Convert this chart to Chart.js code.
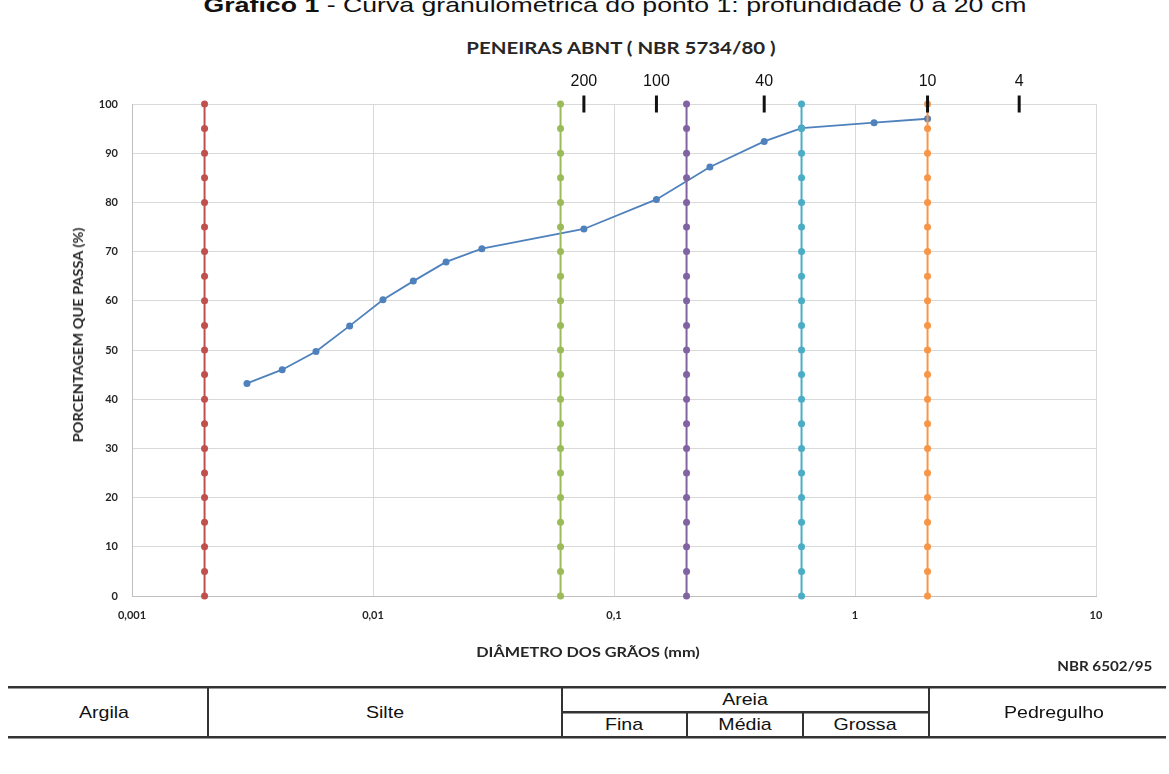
<!DOCTYPE html>
<html lang="pt-BR">
<head>
<meta charset="utf-8">
<title>Curva granulométrica - ponto 1</title>
<script src="https://cdn.jsdelivr.net/npm/chart.js@4.4.1/dist/chart.umd.min.js"></script>
<style>
    html, body { margin: 0; padding: 0; background: #fff; }
    body { width: 1169px; height: 774px; position: relative; overflow: hidden; font-family: 'Liberation Sans', Arial, sans-serif; color: #111; }
    #chart-wrap { position: absolute; left: 0; top: 0; width: 1169px; height: 680px; }
    .t { position: absolute; white-space: nowrap; }
    .lato { font-family: Lato, 'Open Sans', sans-serif; font-weight: 700; color: #262626; }
    .cell { position: absolute; white-space: nowrap; font-size: 17px; transform: translate(-50%, -50%) scaleX(1.15); }
    .hl { position: absolute; height: 2px; background: #333; box-shadow: 0 1px 0 #999; }
    .vl { position: absolute; width: 2px; background: #333; }
</style>
</head>
<body>

<div class="t" id="main-title" style="left:615px; top:-7px; font-size:21px; transform:translateX(-50%) scaleX(1.27);"><b>Gráfico 1</b> - Curva granulométrica do ponto 1: profundidade 0 a 20 cm</div>
<div class="t lato" style="left:621px; top:37px; font-size:17px; transform:translateX(-50%) scaleX(1.2);">PENEIRAS ABNT ( NBR 5734/80 )</div>

<div id="chart-wrap"><canvas id="granulo-chart"></canvas></div>

<div class="t lato" style="left:78px; top:335px; font-size:13px; transform:translate(-50%, -50%) rotate(-90deg) scaleX(1.12);">PORCENTAGEM QUE PASSA (%)</div>
<div class="t lato" style="left:588px; top:651px; font-size:14px; transform:translate(-50%, -50%) scaleX(1.16);">DIÂMETRO DOS GRÃOS (mm)</div>
<div class="t lato" style="right:17px; top:658px; font-size:13px; transform-origin:right center; transform:scaleX(1.17);">NBR 6502/95</div>

<!-- tabela de classificação (NBR 6502/95) -->
<div class="hl" style="left:8px; top:686px; width:1158px;"></div>
<div class="hl" style="left:562px; top:711px; width:368px;"></div>
<div class="hl" style="left:8px; top:736px; width:1158px;"></div>
<div class="vl" style="left:207px; top:686px; height:52px;"></div>
<div class="vl" style="left:561px; top:686px; height:52px;"></div>
<div class="vl" style="left:928px; top:686px; height:52px;"></div>
<div class="vl" style="left:686px; top:711px; height:27px;"></div>
<div class="vl" style="left:802px; top:711px; height:27px;"></div>
<div class="cell" style="left:104px; top:713px;">Argila</div>
<div class="cell" style="left:385px; top:713px;">Silte</div>
<div class="cell" style="left:745px; top:700px;">Areia</div>
<div class="cell" style="left:624px; top:725px;">Fina</div>
<div class="cell" style="left:745px; top:725px;">Média</div>
<div class="cell" style="left:865px; top:725px;">Grossa</div>
<div class="cell" style="left:1054px; top:713px;">Pedregulho</div>

<script>
    // Curva granulométrica - ponto 1 (0 a 20 cm)
    const sampleDiameters = [0.0030, 0.0042, 0.0058, 0.0080, 0.0110, 0.0147, 0.0201, 0.0283, 0.075, 0.15, 0.25, 0.42, 0.6, 1.2, 2.0];
    const samplePassing = [43.2, 46.0, 49.7, 54.9, 60.2, 64.0, 67.9, 70.6, 74.6, 80.6, 87.2, 92.4, 95.1, 96.2, 97.0];

    // Limites das frações (NBR 6502/95)
    const boundaryDiameters = [0.002, 0.06, 0.2, 0.6, 2.0];
    const boundaryColors = ['#c0504d', '#9bbb59', '#8064a2', '#4bacc6', '#f79646'];
    const boundaryMarks = [0, 5, 10, 15, 20, 25, 30, 35, 40, 45, 50, 55, 60, 65, 70, 75, 80, 85, 90, 95, 100];

    // Peneiras ABNT (NBR 5734/80)
    const sieveNumbers = ['200', '100', '40', '10', '4'];
    const sieveOpenings = [0.075, 0.15, 0.42, 2.0, 4.8];

    // Eixo X
    const xTickValues = [0.001, 0.01, 0.1, 1, 10];
    const xTickLabels = ['0,001', '0,01', '0,1', '1', '10'];

    const tickFont = { family: 'Lato', size: 11, weight: 'bold' };

    const boundaryDatasets = boundaryDiameters.map((d, i) => ({
        label: 'limite ' + d,
        data: boundaryMarks.map(y => ({ x: d, y: y })),
        showLine: true,
        borderColor: boundaryColors[i],
        backgroundColor: boundaryColors[i],
        borderWidth: 2,
        pointRadius: 3.5,
        pointBorderWidth: 0,
        clip: false,
        order: 1
    }));

    const sieveLabelsPlugin = {
        id: 'sieveLabels',
        afterDatasetsDraw(chart) {
            const ctx = chart.ctx;
            const xs = chart.scales.x;
            const yTop = chart.scales.y.getPixelForValue(100);
            ctx.save();
            ctx.fillStyle = '#111';
            ctx.font = '16px "Liberation Sans", Arial, sans-serif';
            ctx.textAlign = 'center';
            ctx.textBaseline = 'middle';
            sieveNumbers.forEach((n, i) => {
                ctx.fillText(n, xs.getPixelForValue(sieveOpenings[i]), yTop - 22);
            });
            ctx.restore();
        }
    };

    new Chart(document.getElementById('granulo-chart'), {
        type: 'scatter',
        data: {
            datasets: [
                {
                    label: 'Ponto 1',
                    data: sampleDiameters.map((d, i) => ({ x: d, y: samplePassing[i] })),
                    showLine: true,
                    borderColor: '#4f81bd',
                    backgroundColor: '#4f81bd',
                    borderWidth: 1.8,
                    pointRadius: 3.5,
                    pointBorderWidth: 0,
                    clip: false,
                    order: 5
                },
                ...boundaryDatasets,
                {
                    label: 'Peneiras',
                    data: sieveOpenings.map(d => ({ x: d, y: 100 })),
                    showLine: false,
                    pointStyle: 'line',
                    rotation: 90,
                    pointRadius: 8.5,
                    borderColor: '#111',
                    borderWidth: 3,
                    clip: false,
                    order: 0
                }
            ]
        },
        options: {
            responsive: true,
            maintainAspectRatio: false,
            animation: false,
            layout: {
                padding: { top: 104, right: 73, left: 66, bottom: 44 }
            },
            plugins: {
                legend: { display: false },
                tooltip: { enabled: false }
            },
            scales: {
                x: {
                    type: 'logarithmic',
                    min: 0.001,
                    max: 10,
                    afterBuildTicks: function(scale) {
                        scale.ticks = xTickValues.map(v => ({ value: v }));
                    },
                    afterFit: function(scale) {
                        scale.height = 40;
                    },
                    grid: { color: '#d9d9d9', drawTicks: false },
                    border: { color: '#bfbfbf' },
                    ticks: {
                        padding: 13,
                        maxRotation: 0,
                        autoSkip: false,
                        color: '#262626',
                        font: tickFont,
                        callback: function(value, index) {
                            return xTickLabels[index];
                        }
                    }
                },
                y: {
                    min: 0,
                    max: 100,
                    afterFit: function(scale) {
                        scale.width = 66;
                    },
                    grid: { color: '#d9d9d9', drawTicks: false },
                    border: { color: '#bfbfbf' },
                    ticks: {
                        stepSize: 10,
                        padding: 14,
                        color: '#262626',
                        font: tickFont
                    }
                }
            }
        },
        plugins: [sieveLabelsPlugin]
    });
</script>
</body>
</html>
